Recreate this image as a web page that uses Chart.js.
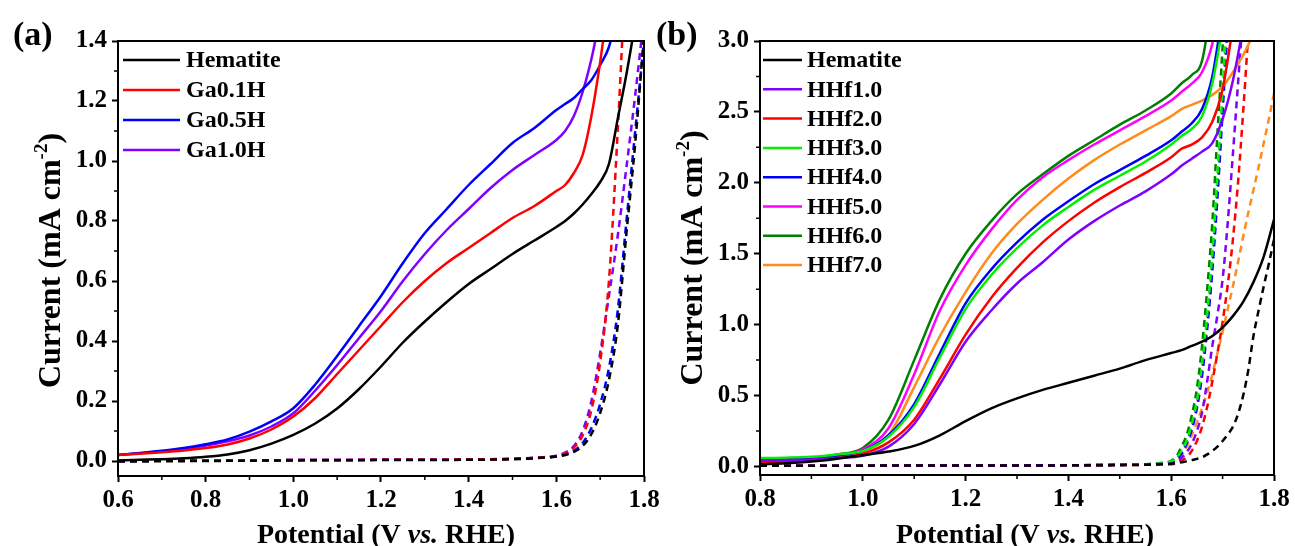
<!DOCTYPE html>
<html>
<head>
<meta charset="utf-8">
<script src="https://cdn.jsdelivr.net/npm/chart.js@4.4.1/dist/chart.umd.min.js"></script>
<style>
  html, body { margin: 0; padding: 0; background: #fff; }
  body { width: 1295px; height: 546px; position: relative; overflow: hidden; }
  canvas { position: absolute; top: 0; }
  #chartA { left: 0; }
  #chartB { left: 645px; }
</style>
</head>
<body>
<canvas id="chartA" width="670" height="546"></canvas>
<canvas id="chartB" width="650" height="546"></canvas>
<script>
// ---- panel (a): Ga doped hematite, light (solid) and dark (dashed) ----
const potentialA = [0.60, 0.65, 0.70, 0.75, 0.80, 0.85, 0.90, 0.95, 1.00, 1.05, 1.10, 1.15, 1.20, 1.25, 1.30, 1.35, 1.40, 1.45, 1.50, 1.55, 1.60,
  1.62, 1.64, 1.66, 1.68, 1.70, 1.72, 1.74, 1.76, 1.78, 1.80];
const hematiteA = [0.002, 0.004, 0.006, 0.009, 0.014, 0.022, 0.036, 0.058, 0.087, 0.125, 0.175, 0.24, 0.315, 0.395, 0.465, 0.53, 0.59, 0.64, 0.69, 0.735, 0.78,
  0.80, 0.825, 0.855, 0.89, 0.93, 0.99, 1.14, 1.29, 1.46, null];
const ga01A = [0.02, 0.024, 0.029, 0.035, 0.043, 0.055, 0.075, 0.105, 0.148, 0.21, 0.29, 0.37, 0.45, 0.53, 0.60, 0.66, 0.71, 0.76, 0.81, 0.85, 0.90,
  0.92, 0.96, 1.02, 1.15, 1.33, 1.55, null, null, null, null];
const ga05A = [0.02, 0.027, 0.034, 0.043, 0.056, 0.072, 0.098, 0.132, 0.176, 0.255, 0.35, 0.45, 0.55, 0.66, 0.76, 0.84, 0.92, 0.99, 1.06, 1.11, 1.17,
  1.19, 1.21, 1.24, 1.27, 1.32, 1.38, 1.50, null, null, null];
const ga10A = [0.02, 0.026, 0.032, 0.04, 0.052, 0.066, 0.085, 0.115, 0.159, 0.235, 0.32, 0.41, 0.50, 0.60, 0.69, 0.77, 0.84, 0.91, 0.97, 1.02, 1.07,
  1.10, 1.15, 1.23, 1.34, 1.48, null, null, null, null, null];

const potentialADark = [0.60, 0.80, 1.00, 1.20, 1.40, 1.50, 1.55, 1.60, 1.62, 1.64, 1.66, 1.68, 1.70, 1.72, 1.74, 1.76, 1.78, 1.80];
const hematiteADark = [-0.002, 0.0, 0.002, 0.003, 0.004, 0.006, 0.009, 0.015, 0.02, 0.03, 0.05, 0.09, 0.16, 0.27, 0.45, 0.76, 1.06, 1.42];
const ga01ADark = [0.0, 0.002, 0.003, 0.004, 0.005, 0.007, 0.01, 0.016, 0.025, 0.045, 0.085, 0.17, 0.33, 0.6, 1.1, 1.7, null, null];
const ga05ADark = [0.0, 0.002, 0.003, 0.004, 0.005, 0.007, 0.01, 0.015, 0.022, 0.035, 0.06, 0.11, 0.19, 0.31, 0.5, 0.8, 1.1, 1.4];
const ga10ADark = [0.0, 0.002, 0.003, 0.004, 0.005, 0.008, 0.011, 0.018, 0.028, 0.05, 0.1, 0.2, 0.36, 0.55, 0.75, 0.98, 1.22, 1.48];

const xTicksA = [0.6, 0.8, 1.0, 1.2, 1.4, 1.6, 1.8];
const yTicksA = [0.0, 0.2, 0.4, 0.6, 0.8, 1.0, 1.2, 1.4];
const minorXA = [0.7, 0.9, 1.1, 1.3, 1.5, 1.7];
const minorYA = [0.1, 0.3, 0.5, 0.7, 0.9, 1.1, 1.3];

// ---- panel (b): Hf doped hematite ----
const potentialB = [0.80, 0.85, 0.90, 0.95, 1.00, 1.05, 1.10, 1.15, 1.20, 1.25, 1.30, 1.35, 1.40, 1.45, 1.50, 1.55, 1.60,
  1.62, 1.64, 1.66, 1.68, 1.70, 1.72, 1.74, 1.76, 1.78, 1.80];
const hematiteB = [0.015, 0.022, 0.035, 0.055, 0.08, 0.105, 0.145, 0.22, 0.32, 0.41, 0.48, 0.54, 0.59, 0.64, 0.69, 0.75, 0.80,
  0.82, 0.85, 0.88, 0.92, 0.98, 1.06, 1.16, 1.30, 1.48, 1.74];
const hhf10B = [0.04, 0.045, 0.05, 0.06, 0.075, 0.14, 0.30, 0.58, 0.88, 1.10, 1.29, 1.44, 1.60, 1.73, 1.84, 1.94, 2.06,
  2.12, 2.17, 2.22, 2.28, 2.45, 2.72, 3.10, null, null, null];
const hhf20B = [0.03, 0.035, 0.045, 0.06, 0.09, 0.17, 0.33, 0.62, 0.93, 1.19, 1.40, 1.58, 1.73, 1.86, 1.97, 2.07, 2.18,
  2.24, 2.27, 2.32, 2.43, 2.66, 3.10, null, null, null, null];
const hhf30B = [0.06, 0.062, 0.068, 0.085, 0.11, 0.21, 0.42, 0.77, 1.11, 1.35, 1.54, 1.70, 1.83, 1.95, 2.05, 2.15, 2.27,
  2.33, 2.38, 2.47, 2.70, 3.10, null, null, null, null, null];
const hhf40B = [0.04, 0.045, 0.055, 0.075, 0.11, 0.22, 0.44, 0.80, 1.15, 1.39, 1.58, 1.74, 1.87, 1.99, 2.09, 2.19, 2.30,
  2.36, 2.42, 2.52, 2.75, 3.20, null, null, null, null, null];
const hhf50B = [0.04, 0.045, 0.055, 0.08, 0.12, 0.27, 0.65, 1.10, 1.42, 1.67, 1.88, 2.04, 2.16, 2.27, 2.37, 2.47, 2.58,
  2.64, 2.70, 2.78, 2.98, 3.40, null, null, null, null, null];
const hhf60B = [0.045, 0.05, 0.06, 0.085, 0.13, 0.33, 0.75, 1.18, 1.50, 1.73, 1.92, 2.06, 2.19, 2.30, 2.41, 2.51, 2.63,
  2.70, 2.76, 2.86, 3.30, null, null, null, null, null, null];
const hhf70B = [0.035, 0.04, 0.05, 0.075, 0.11, 0.22, 0.56, 0.92, 1.23, 1.50, 1.71, 1.88, 2.03, 2.16, 2.27, 2.37, 2.47,
  2.52, 2.55, 2.58, 2.62, 2.68, 2.78, 2.90, 3.05, null, null];

const potentialBDark = [0.80, 1.00, 1.20, 1.40, 1.50, 1.55, 1.58,
  1.60, 1.61, 1.62, 1.63, 1.64, 1.65, 1.66, 1.67, 1.68, 1.69, 1.70, 1.71, 1.72, 1.73, 1.74, 1.75, 1.76, 1.77, 1.78, 1.79, 1.80];
const hematiteBDark = [0.005, 0.006, 0.007, 0.008, 0.01, 0.012, 0.016,
  0.02, 0.024, 0.03, 0.036, 0.045, 0.054, 0.065, 0.085, 0.11, 0.14, 0.18, 0.225, 0.28, 0.37, 0.5, 0.68, 0.92, 1.1, 1.27, 1.43, 1.6];
const hhf10BDark = [0.005, 0.006, 0.007, 0.009, 0.011, 0.014, 0.018,
  0.02, 0.035, 0.06, 0.1, 0.16, 0.25, 0.38, 0.6, 0.85, 1.07, 1.32, 1.72, 2.2, 2.7, 3.2, null, null, null, null, null, null];
const hhf20BDark = [0.005, 0.006, 0.007, 0.008, 0.01, 0.012, 0.015,
  0.015, 0.025, 0.04, 0.065, 0.11, 0.18, 0.28, 0.42, 0.6, 0.8, 1.02, 1.28, 1.6, 2.0, 2.5, 3.05, null, null, null, null, null];
const hhf30BDark = [0.005, 0.006, 0.007, 0.009, 0.012, 0.016, 0.024,
  0.035, 0.06, 0.11, 0.18, 0.3, 0.46, 0.72, 1.07, 1.5, 2.05, 2.65, 3.3, null, null, null, null, null, null, null, null, null];
const hhf40BDark = [0.005, 0.006, 0.007, 0.009, 0.011, 0.014, 0.02,
  0.03, 0.05, 0.09, 0.16, 0.26, 0.41, 0.64, 0.97, 1.38, 1.9, 2.5, 3.1, null, null, null, null, null, null, null, null, null];
const hhf50BDark = [0.005, 0.006, 0.007, 0.009, 0.012, 0.015, 0.022,
  0.03, 0.055, 0.1, 0.17, 0.28, 0.44, 0.68, 1.02, 1.45, 1.98, 2.58, 3.2, null, null, null, null, null, null, null, null, null];
const hhf60BDark = [0.005, 0.006, 0.007, 0.009, 0.012, 0.016, 0.025,
  0.04, 0.07, 0.14, 0.22, 0.36, 0.55, 0.85, 1.25, 1.72, 2.35, 2.96, 3.6, null, null, null, null, null, null, null, null, null];
const hhf70BDark = [0.005, 0.006, 0.007, 0.009, 0.011, 0.014, 0.019,
  0.025, 0.045, 0.08, 0.14, 0.22, 0.31, 0.41, 0.52, 0.65, 0.8, 0.95, 1.11, 1.27, 1.44, 1.62, 1.79, 1.95, 2.11, 2.28, 2.45, 2.63];

const xTicksB = [0.8, 1.0, 1.2, 1.4, 1.6, 1.8];
const yTicksB = [0.0, 0.5, 1.0, 1.5, 2.0, 2.5, 3.0];
const minorXB = [0.9, 1.1, 1.3, 1.5, 1.7];
const minorYB = [0.25, 0.75, 1.25, 1.75, 2.25, 2.75];

const FONT = '"Liberation Serif", "Times New Roman", serif';
Chart.defaults.font.family = FONT;
Chart.defaults.font.weight = 'bold';
Chart.defaults.color = '#000';

function pairs(xs, ys) {
  return xs.map((x, i) => ({ x: x, y: ys[i] }));
}

function curve(label, xs, ys, color, dark) {
  return {
    label: label,
    data: pairs(xs, ys),
    borderColor: color,
    backgroundColor: color,
    borderWidth: 2.5,
    borderDash: dark ? [7, 5] : [],
    pointRadius: 0,
    cubicInterpolationMode: 'monotone',
    dark: dark
  };
}

// box around the plot + minor ticks
const framePlugin = {
  id: 'frame',
  afterDatasetsDraw(chart, args, o) {
    const { ctx, chartArea: a, scales } = chart;
    ctx.save();
    ctx.strokeStyle = '#000';
    ctx.lineWidth = 2;
    ctx.strokeRect(a.left, a.top, a.right - a.left, a.bottom - a.top);
    ctx.lineWidth = 1.5;
    ctx.beginPath();
    o.minorX.forEach(v => {
      const px = scales.x.getPixelForValue(v);
      ctx.moveTo(px, a.bottom);
      ctx.lineTo(px, a.bottom + 4);
    });
    o.minorY.forEach(v => {
      const py = scales.y.getPixelForValue(v);
      ctx.moveTo(a.left, py);
      ctx.lineTo(a.left - 4, py);
    });
    ctx.stroke();
    ctx.restore();
  }
};

// legend inside the plot, solid (light) curves only
const legendPlugin = {
  id: 'lineLegend',
  afterDraw(chart, args, o) {
    const { ctx, chartArea: a } = chart;
    ctx.save();
    ctx.font = 'bold 24px ' + FONT;
    ctx.textAlign = 'left';
    ctx.textBaseline = 'middle';
    let y = a.top + o.firstY;
    chart.data.datasets.filter(d => !d.dark).forEach(d => {
      ctx.strokeStyle = d.borderColor;
      ctx.lineWidth = 2.5;
      ctx.beginPath();
      ctx.moveTo(a.left + o.line0, y);
      ctx.lineTo(a.left + o.line1, y);
      ctx.stroke();
      ctx.fillStyle = '#000';
      ctx.fillText(d.label, a.left + o.textX, y + 1);
      y += o.gap;
    });
    ctx.restore();
  }
};

// axis titles (italic "vs.", superscript -2) and panel letter
const textPlugin = {
  id: 'panelText',
  afterDraw(chart, args, o) {
    const { ctx, chartArea: a } = chart;
    ctx.save();
    ctx.fillStyle = '#000';
    ctx.textAlign = 'left';
    ctx.textBaseline = 'alphabetic';

    ctx.font = 'bold 34px ' + FONT;
    ctx.fillText(o.letter, o.letterX, o.letterY);

    const bold = 'bold 28px ' + FONT;
    const ital = 'italic bold 28px ' + FONT;
    const parts = [[bold, 'Potential (V '], [ital, 'vs.'], [bold, ' RHE)']];
    let w = 0;
    parts.forEach(p => { ctx.font = p[0]; w += ctx.measureText(p[1]).width; });
    let x0 = (a.left + a.right) / 2 + o.xTitleShift - w / 2;
    parts.forEach(p => {
      ctx.font = p[0];
      ctx.fillText(p[1], x0, o.xTitleY);
      x0 += ctx.measureText(p[1]).width;
    });

    const size = o.yTitleSize;
    const main = 'bold ' + size + 'px ' + FONT;
    const sup = 'bold ' + Math.round(size * 0.6) + 'px ' + FONT;
    ctx.translate(o.yTitleX, (a.top + a.bottom) / 2 + o.yTitleShift);
    ctx.rotate(-Math.PI / 2);
    ctx.font = main;
    const w1 = ctx.measureText('Current (mA cm').width;
    const w3 = ctx.measureText(')').width;
    ctx.font = sup;
    const w2 = ctx.measureText('-2').width;
    let s = -(w1 + w2 + w3) / 2;
    ctx.font = main;
    ctx.fillText('Current (mA cm', s, 0);
    s += w1;
    ctx.font = sup;
    ctx.fillText('-2', s, -size * 0.42);
    s += w2;
    ctx.font = main;
    ctx.fillText(')', s, 0);
    ctx.restore();
  }
};

function panel(id, c) {
  return new Chart(document.getElementById(id), {
    type: 'line',
    data: { datasets: c.datasets },
    options: {
      responsive: false,
      animation: false,
      layout: { padding: { top: 41, right: c.padRight, left: 0, bottom: 0 } },
      plugins: {
        legend: { display: false },
        tooltip: { enabled: false },
        frame: { minorX: c.minorX, minorY: c.minorY },
        lineLegend: c.legend,
        panelText: c.text
      },
      scales: {
        x: {
          type: 'linear',
          min: c.xMin,
          max: c.xMax,
          afterBuildTicks: s => { s.ticks = c.xTicks.map(v => ({ value: v })); },
          afterFit: s => { s.height = c.xAxisHeight; s.paddingLeft = 0; s.paddingRight = 0; },
          ticks: { callback: v => v.toFixed(1), font: { size: 25, weight: 'bold' }, padding: 4, maxRotation: 0, autoSkip: false },
          grid: { drawOnChartArea: false, tickLength: 6, tickWidth: 2, tickColor: '#000' },
          border: { display: false }
        },
        y: {
          min: c.yMin,
          max: c.yMax,
          afterBuildTicks: s => { s.ticks = c.yTicks.map(v => ({ value: v })); },
          afterFit: s => { s.width = c.yAxisWidth; },
          ticks: { callback: v => v.toFixed(1), font: { size: 25, weight: 'bold' }, padding: 5, autoSkip: false },
          grid: { drawOnChartArea: false, tickLength: 6, tickWidth: 2, tickColor: '#000' },
          border: { display: false }
        }
      }
    },
    plugins: [framePlugin, legendPlugin, textPlugin]
  });
}

panel('chartA', {
  datasets: [
    curve('Hematite', potentialA, hematiteA, '#000000', false),
    curve('Ga0.1H', potentialA, ga01A, '#FF0000', false),
    curve('Ga0.5H', potentialA, ga05A, '#0000FF', false),
    curve('Ga1.0H', potentialA, ga10A, '#8000FF', false),
    curve('Hematite dark', potentialADark, hematiteADark, '#000000', true),
    curve('Ga0.1H dark', potentialADark, ga01ADark, '#FF0000', true),
    curve('Ga0.5H dark', potentialADark, ga05ADark, '#0000FF', true),
    curve('Ga1.0H dark', potentialADark, ga10ADark, '#8000FF', true)
  ],
  xMin: 0.6, xMax: 1.8, yMin: -0.05, yMax: 1.4,
  xTicks: xTicksA, yTicks: yTicksA, minorX: minorXA, minorY: minorYA,
  padRight: 26, xAxisHeight: 70, yAxisWidth: 118,
  legend: { firstY: 19, gap: 30, line0: 5, line1: 62, textX: 68 },
  text: { letter: '(a)', letterX: 13, letterY: 45, xTitleY: 543, xTitleShift: 5, yTitleX: 60, yTitleSize: 32, yTitleShift: 2 }
});

panel('chartB', {
  datasets: [
    curve('Hematite', potentialB, hematiteB, '#000000', false),
    curve('HHf1.0', potentialB, hhf10B, '#8000FF', false),
    curve('HHf2.0', potentialB, hhf20B, '#FF0000', false),
    curve('HHf3.0', potentialB, hhf30B, '#00F000', false),
    curve('HHf4.0', potentialB, hhf40B, '#0000FF', false),
    curve('HHf5.0', potentialB, hhf50B, '#FF00FF', false),
    curve('HHf6.0', potentialB, hhf60B, '#008000', false),
    curve('HHf7.0', potentialB, hhf70B, '#FF8C1A', false),
    curve('Hematite dark', potentialBDark, hematiteBDark, '#000000', true),
    curve('HHf1.0 dark', potentialBDark, hhf10BDark, '#8000FF', true),
    curve('HHf2.0 dark', potentialBDark, hhf20BDark, '#FF0000', true),
    curve('HHf3.0 dark', potentialBDark, hhf30BDark, '#00F000', true),
    curve('HHf4.0 dark', potentialBDark, hhf40BDark, '#0000FF', true),
    curve('HHf5.0 dark', potentialBDark, hhf50BDark, '#FF00FF', true),
    curve('HHf6.0 dark', potentialBDark, hhf60BDark, '#008000', true),
    curve('HHf7.0 dark', potentialBDark, hhf70BDark, '#FF8C1A', true)
  ],
  xMin: 0.8, xMax: 1.8, yMin: -0.06, yMax: 3.0,
  xTicks: xTicksB, yTicks: yTicksB, minorX: minorXB, minorY: minorYB,
  padRight: 21, xAxisHeight: 71, yAxisWidth: 115,
  legend: { firstY: 19, gap: 29.3, line0: 3, line1: 42, textX: 47 },
  text: { letter: '(b)', letterX: 11, letterY: 45, xTitleY: 543, xTitleShift: 8, yTitleX: 57, yTitleSize: 32, yTitleShift: 0 }
});
</script>
</body>
</html>
